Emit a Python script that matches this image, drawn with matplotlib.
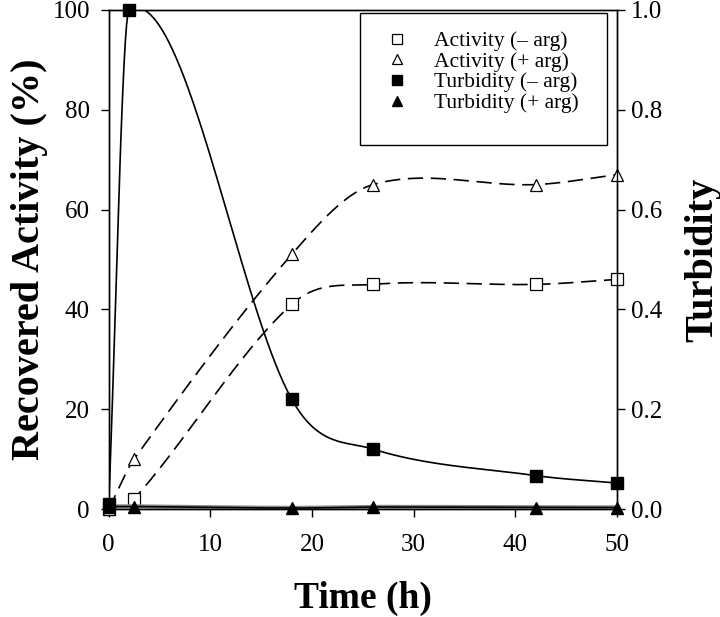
"""
Recovered activity and turbidity versus time, with and without arginine
"""

import numpy as np
import matplotlib
matplotlib.use("Agg")
import matplotlib.pyplot as plt
from matplotlib.lines import Line2D
from matplotlib.patches import Rectangle

TIME = [0, 2.5, 18, 26, 42, 50]
TIME_TURB = [0, 2, 18, 26, 42, 50]

ACT_MINUS = [0, 2, 41, 45, 45, 46]
ACT_PLUS = [0, 10, 51, 65, 65, 67]
TURB_MINUS = [0.01, 1.0, 0.22, 0.12, 0.067, 0.052]
TURB_PLUS = [0.005, 0.005, 0.002, 0.004, 0.003, 0.003]

LEGEND_LABELS = ["Activity (\u2013 arg)", "Activity (+ arg)",
                 "Turbidity (\u2013 arg)", "Turbidity (+ arg)"]

plt.rcParams['font.family'] = ['Liberation Serif', 'DejaVu Serif']
plt.rcParams['lines.scale_dashes'] = False


def smooth_curve(x, y, n=400):
    """Cardinal (Catmull-Rom style) cubic Hermite curve through the points."""
    x = np.asarray(x, float)
    y = np.asarray(y, float)
    m = np.empty_like(y)
    m[1:-1] = (y[2:] - y[:-2]) / (x[2:] - x[:-2])
    m[0] = (y[1] - y[0]) / (x[1] - x[0])
    m[-1] = (y[-1] - y[-2]) / (x[-1] - x[-2])
    xs = np.linspace(x[0], x[-1], n)
    i = np.clip(np.searchsorted(x, xs) - 1, 0, len(x) - 2)
    h = x[i + 1] - x[i]
    t = (xs - x[i]) / h
    h00 = 2 * t ** 3 - 3 * t ** 2 + 1
    h10 = t ** 3 - 2 * t ** 2 + t
    h01 = -2 * t ** 3 + 3 * t ** 2
    h11 = t ** 3 - t ** 2
    ys = h00 * y[i] + h10 * h * m[i] + h01 * y[i + 1] + h11 * h * m[i + 1]
    return xs, ys


fig = plt.figure(figsize=(7.2, 6.17), dpi=100)
ax = fig.add_axes([0.151, 0.175, 0.706, 0.809])
ax2 = ax.twinx()

dash = (0, (11, 5.5))
lw = 1.2

xs, ys = smooth_curve(TIME, ACT_MINUS)
ax.plot(xs, ys, color='black', lw=lw, linestyle=dash, zorder=2)
xs, ys = smooth_curve(TIME, ACT_PLUS)
ax.plot(xs, ys, color='black', lw=lw, linestyle=dash, zorder=2)

xs, ys = smooth_curve(TIME_TURB, TURB_MINUS)
ax2.plot(xs, ys, color='black', lw=lw, zorder=2)
xs, ys = smooth_curve(TIME, TURB_PLUS)
ax2.plot(xs, ys, color='#888888', lw=3.2, zorder=2)
ax2.plot(xs, ys, color='black', lw=1.2, zorder=2)

ms = 8.5
ax.plot(TIME, ACT_MINUS, 's', ms=ms, mfc='white', mec='black', mew=0.9,
        zorder=3, clip_on=False)
ax.plot(TIME, ACT_PLUS, '^', ms=ms + 0.5, mfc='white', mec='black', mew=0.9,
        zorder=3, clip_on=False)
ax2.plot(TIME_TURB, TURB_MINUS, 's', ms=ms, color='black', zorder=3, clip_on=False)
ax2.plot(TIME, TURB_PLUS, '^', ms=ms, color='black', zorder=3, clip_on=False)

ax.set_xlim(0, 50)
ax.set_ylim(0, 100)
ax2.set_ylim(0, 1.0)
ax.set_xticks(range(0, 51, 10))
ax.set_yticks(range(0, 101, 20))
ticks2 = np.arange(0, 1.01, 0.2)
ax2.set_yticks(ticks2)
ax2.set_yticklabels(["%.1f" % v for v in ticks2])

for a in (ax, ax2):
    a.tick_params(labelsize=18, direction='out', length=6, width=1, pad=4)
    for s in a.spines.values():
        s.set_linewidth(1)
ax.tick_params(axis='x', pad=12)
ax.tick_params(axis='y', pad=7.5)

ax.set_xlabel("Time (h)", fontsize=27, fontweight='bold', labelpad=18)
ax.set_ylabel("Recovered Activity (%)", fontsize=29, fontweight='bold', labelpad=3)
ax2.set_ylabel("Turbidity", fontsize=29, fontweight='bold', labelpad=16)

# legend frame, with extra room below the entries as in the original
fig.patches.append(Rectangle((360 / 720, 1 - 145 / 617), 247 / 720, 132 / 617,
                             transform=fig.transFigure, fill=False,
                             edgecolor='black', lw=1, zorder=5))

handles = [
    Line2D([], [], marker='s', ls='none', ms=7.5, mfc='white', mec='black', mew=0.9),
    Line2D([], [], marker='^', ls='none', ms=7.5, mfc='white', mec='black', mew=0.9),
    Line2D([], [], marker='s', ls='none', ms=7.5, color='black'),
    Line2D([], [], marker='^', ls='none', ms=7.5, color='black'),
]
leg = fig.legend(handles, LEGEND_LABELS, loc='upper left',
                 bbox_to_anchor=(386 / 720, 1 - 31 / 617), fontsize=15.5,
                 frameon=False, handlelength=1.0, handletextpad=1.25,
                 labelspacing=0.03, borderpad=0, borderaxespad=0)

fig.savefig("out.png", dpi=100)
